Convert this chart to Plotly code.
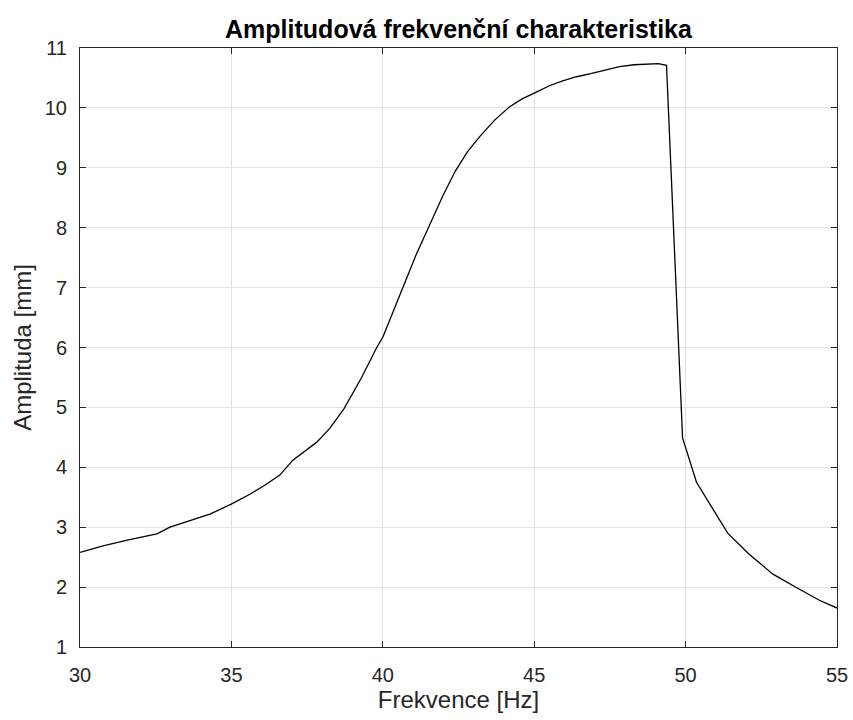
import plotly.graph_objects as go

freq = [30.0, 30.76, 31.6, 32.54, 32.97, 33.6, 34.29, 34.98, 35.61, 36.1, 36.6, 37.03,
        37.82, 38.25, 38.72, 39.3, 39.8, 40.0, 40.3, 40.66, 41.1, 41.55, 42.0,
        42.4, 42.8, 43.2, 43.7, 44.19, 44.6, 45.02, 45.5, 45.94, 46.4, 46.83, 47.3, 47.82,
        48.3, 48.81, 49.1, 49.37, 49.9, 50.36, 50.9, 51.39, 52.1, 52.87, 53.7, 54.42, 55.0]
amp = [2.58, 2.69, 2.79, 2.89, 3.0, 3.1, 3.22, 3.38, 3.55, 3.7, 3.87, 4.12,
       4.42, 4.65, 4.98, 5.5, 6.0, 6.17, 6.55, 7.0, 7.55, 8.05, 8.55,
       8.95, 9.27, 9.52, 9.8, 10.02, 10.15, 10.25, 10.37, 10.45, 10.52, 10.57, 10.63, 10.69,
       10.72, 10.74, 10.74, 10.71, 4.49, 3.75, 3.3, 2.9, 2.55, 2.22, 1.98, 1.78, 1.65]

x_ticks = [30, 35, 40, 45, 50, 55]
y_ticks = list(range(1, 12))

FONT = "Liberation Sans, Arial, sans-serif"

fig = go.Figure()
fig.add_trace(go.Scatter(x=freq, y=amp, mode="lines",
                         line=dict(color="black", width=1.3), showlegend=False))

axis_common = dict(
    showline=True, linecolor="#262626", linewidth=1, mirror="ticks",
    ticks="inside", ticklen=6, tickcolor="#262626", tickwidth=1,
    showgrid=True, gridcolor="#e3e3e3", gridwidth=1, zeroline=False,
    tickfont=dict(family=FONT, size=20, color="#262626"),
    automargin=False,
)

fig.update_xaxes(range=[30, 55], tickvals=x_ticks, ticklabelstandoff=10,
                 title=dict(text="Frekvence [Hz]", standoff=0,
                            font=dict(family=FONT, size=24, color="#262626")),
                 **axis_common)
fig.update_yaxes(range=[1, 11], tickvals=y_ticks, ticklabelstandoff=8,
                 title=dict(text="Amplituda [mm]", standoff=6,
                            font=dict(family=FONT, size=24, color="#262626")),
                 **axis_common)

fig.update_layout(
    width=853, height=720,
    margin=dict(l=80, r=16, t=48, b=73),
    paper_bgcolor="white", plot_bgcolor="white",
    title=dict(text="<b>Amplitudová frekvenční charakteristika</b>", x=0.5, xref="paper",
               y=1, yref="paper", yanchor="bottom", pad=dict(b=10),
               font=dict(family=FONT, size=25, color="black")),
)

fig.write_html("out.html")
